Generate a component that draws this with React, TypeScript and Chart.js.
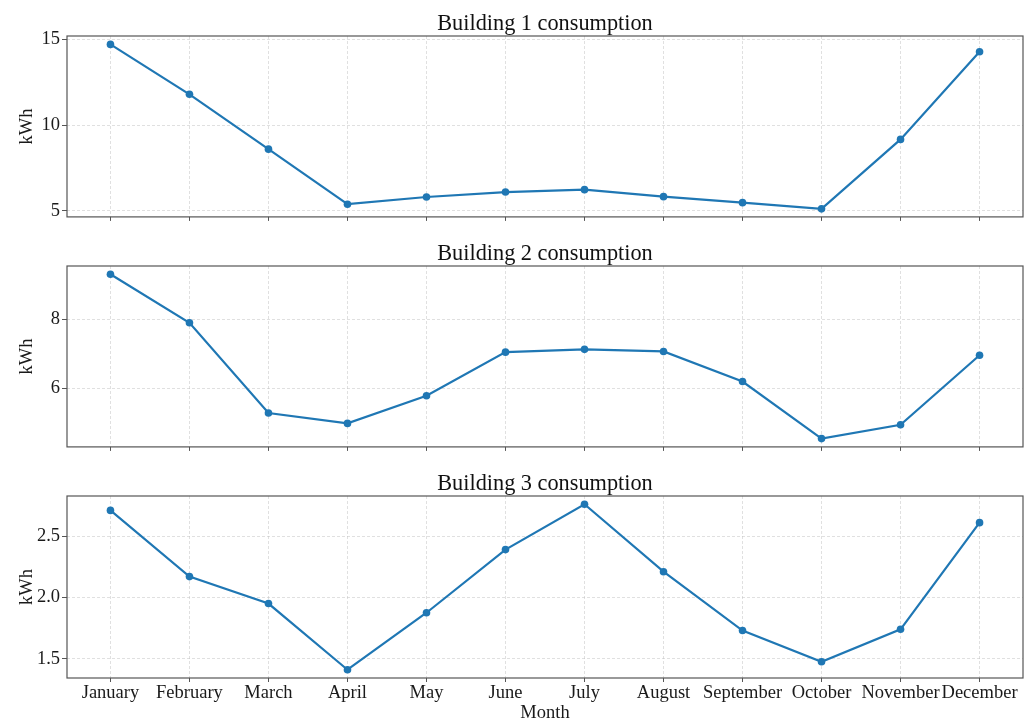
import React, { useEffect, useRef } from "react";
import { Chart, registerables } from "chart.js";

Chart.register(...registerables);

// ---------- data ----------
const MONTHS = [
  "January", "February", "March", "April", "May", "June",
  "July", "August", "September", "October", "November", "December",
];
const BUILDING_1 = [14.71, 11.8, 8.6, 5.39, 5.81, 6.1, 6.24, 5.83, 5.48, 5.12, 9.17, 14.28];
const BUILDING_2 = [9.3, 7.9, 5.29, 4.99, 5.79, 7.05, 7.13, 7.07, 6.2, 4.55, 4.95, 6.96];
const BUILDING_3 = [2.71, 2.17, 1.95, 1.41, 1.875, 2.39, 2.76, 2.21, 1.73, 1.475, 1.74, 2.61];
const TITLES = ["Building 1 consumption", "Building 2 consumption", "Building 3 consumption"];
const Y_TICKS_1 = [5, 10, 15];
const Y_TICKS_2 = [6, 8];
const Y_TICKS_3 = [1.5, 2.0, 2.5];
const Y_LABEL = "kWh";
const X_LABEL = "Month";

// ---------- style ----------
const FONT = "'Liberation Serif', 'Times New Roman', serif";
const BLUE = "#1f77b4";
const FRAME = "#555555";
const GRID = "rgba(190,190,190,0.6)";
const TEXT = "#1a1a1a";

const framePlugin = {
  id: "frame",
  afterDatasetsDraw(chart: any) {
    const { ctx, chartArea: a } = chart;
    ctx.save();
    ctx.strokeStyle = FRAME;
    ctx.lineWidth = 1.2;
    ctx.strokeRect(a.left, a.top, a.right - a.left, a.bottom - a.top);
    ctx.restore();
  },
};

type PanelProps = {
  top: number;
  height: number;
  title: string;
  values: number[];
  yMin: number;
  yMax: number;
  yTicks: number[];
  decimals: number;
  showX: boolean;
};

function Panel(props: PanelProps) {
  const ref = useRef<HTMLCanvasElement | null>(null);
  useEffect(() => {
    const { title, values, yMin, yMax, yTicks, decimals, showX, height } = props;
    const tickFont = { family: FONT, size: 18.5, weight: "normal" as const, lineHeight: 1.2 };
    const chart = new Chart(ref.current as HTMLCanvasElement, {
      type: "line",
      data: {
        datasets: [
          {
            data: values.map((v, i) => ({ x: i, y: v })),
            borderColor: BLUE,
            backgroundColor: BLUE,
            pointBackgroundColor: BLUE,
            pointBorderColor: BLUE,
            borderWidth: 2.2,
            pointRadius: 3.8,
            pointHoverRadius: 3.8,
            pointBorderWidth: 0,
            tension: 0,
            clip: false as any,
          },
        ],
      },
      options: {
        responsive: false,
        animation: false,
        events: [],
        layout: { padding: { left: 0, right: 9, top: 0, bottom: 0 } },
        plugins: {
          legend: { display: false },
          tooltip: { enabled: false },
          title: {
            display: true,
            text: title,
            fullSize: false,
            color: "#111",
            font: { family: FONT, size: 22.3, weight: "normal", lineHeight: 1.2 },
            padding: { top: 10.6, bottom: -1.36 },
          },
        },
        scales: {
          x: {
            type: "linear",
            min: -0.55,
            max: MONTHS.length - 1 + 0.55,
            afterBuildTicks: (s: any) => {
              s.ticks = MONTHS.map((_, i) => ({ value: i }));
            },
            afterFit: (s: any) => {
              s.height = height - 218;
            },
            ticks: {
              autoSkip: false,
              maxRotation: 0,
              minRotation: 0,
              padding: -0.4,
              color: TEXT,
              font: tickFont,
              callback: (v: any) => (showX ? MONTHS[Math.round(Number(v))] : ""),
            },
            grid: {
              color: GRID,
              lineWidth: 0.8,
              drawTicks: true,
              tickLength: 4,
              tickColor: FRAME,
              tickWidth: 1,
              tickBorderDash: [],
            },
            border: { display: false, dash: [3, 2] },
            title: {
              display: showX,
              text: X_LABEL,
              color: TEXT,
              font: tickFont,
              padding: { top: 0, bottom: -3.8 },
            },
          },
          y: {
            type: "linear",
            min: yMin,
            max: yMax,
            afterBuildTicks: (s: any) => {
              s.ticks = yTicks.map((v) => ({ value: v }));
            },
            afterFit: (s: any) => {
              s.width = 67;
            },
            ticks: {
              padding: 2,
              color: TEXT,
              font: tickFont,
              callback: (v: any) => Number(v).toFixed(decimals),
            },
            grid: {
              color: GRID,
              lineWidth: 0.8,
              drawTicks: true,
              tickLength: 5,
              tickColor: FRAME,
              tickWidth: 1,
              tickBorderDash: [],
            },
            border: { display: false, dash: [3, 2] },
            title: {
              display: true,
              text: Y_LABEL,
              color: TEXT,
              font: tickFont,
              padding: { top: 15.6, bottom: 0 },
            },
          },
        },
      } as any,
      plugins: [framePlugin],
    });
    return () => chart.destroy();
  }, []);
  return (
    <canvas
      ref={ref}
      width={1032}
      height={props.height}
      style={{ position: "absolute", left: 0, top: props.top, display: "block" }}
    />
  );
}

export default function App() {
  return (
    <div style={{ position: "absolute", left: 0, top: 0, width: 1032, height: 720, background: "#fff" }}>
      <Panel top={0} height={230} title={TITLES[0]} values={BUILDING_1} yMin={4.65} yMax={15.2} yTicks={Y_TICKS_1} decimals={0} showX={false} />
      <Panel top={230} height={230} title={TITLES[1]} values={BUILDING_2} yMin={4.31} yMax={9.54} yTicks={Y_TICKS_2} decimals={0} showX={false} />
      <Panel top={460} height={260} title={TITLES[2]} values={BUILDING_3} yMin={1.3425} yMax={2.8275} yTicks={Y_TICKS_3} decimals={1} showX={true} />
    </div>
  );
}
